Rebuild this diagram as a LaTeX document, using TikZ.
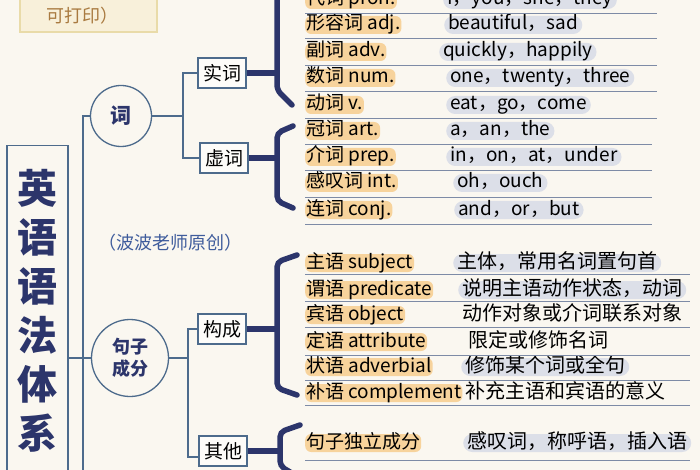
\documentclass[tikz,border=0pt]{standalone}
\usepackage{fontspec}
\setmainfont{Noto Sans CJK SC}
\definecolor{paper}{HTML}{FAF7F0}
\definecolor{navy}{HTML}{2C356B}
\definecolor{steel}{HTML}{4D6B8C}
\definecolor{hlorange}{HTML}{F7D39C}
\definecolor{hlgray}{HTML}{DCDFE8}
\definecolor{rulegray}{HTML}{7D8BA6}
\definecolor{notefill}{HTML}{F8F0DA}
\definecolor{noteedge}{HTML}{E9DBA9}
\definecolor{notetext}{HTML}{A97A40}
\definecolor{signblue}{HTML}{3F5C9C}
\begin{document}
\begin{tikzpicture}[x=1pt,y=-1pt]
\useasboundingbox[fill=paper] (0,0) rectangle (700,470);
\tikzstyle{every node}=[inner sep=0pt,font=\fontsize{19}{19}\selectfont];
\tikzstyle{thinline}=[draw=steel,line width=1.1pt];
\tikzstyle{brace}=[draw=navy,line width=5.5pt,line cap=round,rounded corners=5pt];
\tikzstyle{stem}=[draw=navy,line width=5.5pt];
\tikzstyle{wordbox}=[draw=steel,line width=1.1pt,fill=white!60!paper,minimum width=48pt,minimum height=30pt];
\tikzstyle{bubble}=[circle,draw=steel,line width=1.3pt,fill=paper,text=navy,align=center];
\tikzstyle{term}=[anchor=west,fill=hlorange,rounded corners=6pt,inner xsep=1pt,text height=14pt,text depth=4pt];
\tikzstyle{sample}=[anchor=west,fill=hlgray,rounded corners=9pt,inner xsep=4pt,text height=14pt,text depth=4pt];
\tikzstyle{plain}=[anchor=west,text height=14pt,text depth=4pt];
\tikzstyle{rule}=[draw=rulegray,line width=0.9pt];
% note box and title
\node[draw=noteedge,line width=1.2pt,fill=notefill,minimum width=137pt,minimum height=60pt] (note) at (88.5,2) {};
\node[text=notetext,font=\fontsize{18}{18}\selectfont] (print) at (82,16) {可打印）};
\node[draw=steel,line width=1.2pt,fill=paper,minimum width=61pt,anchor=north,inner ysep=24pt,align=center,text=navy,font=\bfseries\fontsize{40}{49}\selectfont] (title) at (37.5,145) {英\\语\\语\\法\\体\\系};
\node[text=signblue,font=\fontsize{18}{18}\selectfont] (sign) at (170,243) {（波波老师原创）};
% branches
\node[bubble,minimum size=61pt,font=\bfseries\fontsize{21}{21}\selectfont] (ci) at (121,116) {词};
\node[bubble,minimum size=77pt,font=\bfseries\fontsize{18}{22}\selectfont] (juzi) at (130,358) {句子\\成分};
\node[wordbox] (shici) at (222,73) {实词};
\node[wordbox] (xuci) at (224,158) {虚词};
\node[wordbox] (goucheng) at (222,329) {构成};
\node[wordbox] (qita) at (223,451) {其他};
\coordinate (trunk end) at (83,475);
\coordinate (ci fork) at (183,116);
\coordinate (ju fork) at (188,358);
\draw[thinline] (trunk end) |- (ci.west)
(title.east |- juzi.west) -- (juzi.west)
(ci.east) -- (ci fork)
(shici.west) -| (ci fork) |- (xuci.west)
(juzi.east) -- (ju fork)
(goucheng.west) -| (ju fork) |- ([yshift=-6pt]qita.west);
% braces
\draw[stem] (shici.east) -- (277,73)
(xuci.east) -- (277,158)
(goucheng.east) -- (277,329)
(qita.east) -- (280,451);
\draw[brace] (277,-10) -- (277,90) -- (292,105);
\draw[brace] (293,126) -- (277,133) -- (277,201) -- (293,208);
\draw[brace] (297,255) -- (277,262) -- (277,388) -- (297,395);
\draw[brace] (300,425) -- (280,432) -- (280,466) -- (300,478);
% parts of speech
\node[term] (pron) at (305,0) {代词 pron.};
\node[sample] (pron eg) at (443,0) {I，you，she，they};
\node[term] (adj) at (305,25) {形容词 adj.};
\node[sample] (adj eg) at (444,25) {beautiful，sad};
\node[term] (adv) at (305,52) {副词 adv.};
\node[sample] (adv eg) at (439,52) {quickly，happily};
\node[term] (num) at (305,78) {数词 num.};
\node[sample] (num eg) at (446,78) {one，twenty，three};
\node[term] (verb) at (305,105) {动词 v.};
\node[sample] (verb eg) at (446,105) {eat，go，come};
\node[term] (art) at (305,131) {冠词 art.};
\node[sample] (art eg) at (446,131) {a，an，the};
\node[term] (prep) at (305,157) {介词 prep.};
\node[sample] (prep eg) at (446,157) {in，on，at，under};
\node[term] (intj) at (305,183) {感叹词 int.};
\node[sample] (intj eg) at (453,183) {oh，ouch};
\node[term] (conj) at (305,210) {连词 conj.};
\node[sample] (conj eg) at (454,210) {and，or，but};
\draw[rule] (305,13) -- (657,13)
(305,38) -- (657,38)
(305,65) -- (657,65)
(305,91) -- (657,91)
(305,118) -- (657,118)
(305,144) -- (652,144)
(305,170) -- (652,170)
(305,197) -- (652,197)
(305,224) -- (652,224);
% sentence elements
\node[term] (subj) at (305,263) {主语 subject};
\node[sample,font=\fontsize{20}{20}\selectfont] (subj desc) at (453,263) {主体，常用名词置句首};
\node[term] (pred) at (305,290) {谓语 predicate};
\node[sample,font=\fontsize{20}{20}\selectfont] (pred desc) at (458,290) {说明主语动作状态，动词};
\node[term] (obj) at (305,315) {宾语 object};
\node[plain,font=\fontsize{20}{20}\selectfont] (obj desc) at (462,315) {动作对象或介词联系对象};
\node[term] (attr) at (305,342) {定语 attribute};
\node[plain,font=\fontsize{20}{20}\selectfont] (attr desc) at (468,342) {限定或修饰名词};
\node[term] (advl) at (305,367) {状语 adverbial};
\node[sample,font=\fontsize{20}{20}\selectfont] (advl desc) at (461,367) {修饰某个词或全句};
\node[term] (comp) at (305,393) {补语 complement};
\node[plain,font=\fontsize{20}{20}\selectfont] (comp desc) at (465,393) {补充主语和宾语的意义};
\node[term] (indep) at (305,443) {句子独立成分};
\node[sample,font=\fontsize{20}{20}\selectfont] (indep desc) at (463,443) {感叹词，称呼语，插入语};
\draw[rule] (305,274) -- (690,274)
(305,301) -- (690,301)
(305,327) -- (690,327)
(305,355) -- (690,355)
(305,380) -- (690,380)
(305,405) -- (690,405)
(305,460) -- (690,460);
\end{tikzpicture}
\end{document}
